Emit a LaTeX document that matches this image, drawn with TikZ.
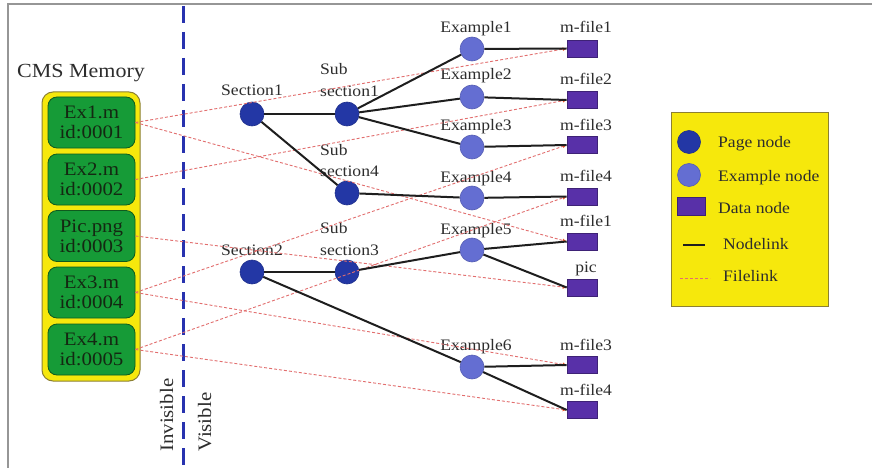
\documentclass[tikz,border=0pt]{standalone}
\usepackage{fontspec}
\setmainfont{Liberation Serif}[FakeStretch=1.1]
\usetikzlibrary{arrows.meta}
\definecolor{pagec}{RGB}{35,55,165}
\definecolor{exc}{RGB}{100,110,210}
\definecolor{datac}{RGB}{88,48,168}
\definecolor{greenc}{RGB}{22,155,55}
\definecolor{greenb}{RGB}{15,90,30}
\definecolor{yellowc}{RGB}{246,232,12}
\definecolor{yellowb}{RGB}{140,128,50}
\definecolor{filec}{RGB}{226,110,110}
\definecolor{tipc}{RGB}{235,85,40}
\definecolor{linkc}{RGB}{30,30,30}
\definecolor{textc}{RGB}{45,45,45}
\definecolor{memtextc}{RGB}{20,40,18}
\definecolor{vlinec}{RGB}{40,50,175}
\definecolor{framec}{RGB}{150,150,150}
\newcommand{\lblfont}{\fontsize{16}{18}\selectfont}
\newcommand{\memfont}{\fontsize{19}{20}\selectfont}
\tikzset{
  pagenode/.style={circle, fill=pagec, draw=pagec!85!black, line width=0.6pt, minimum size=24pt, inner sep=0pt},
  exnode/.style={circle, fill=exc, draw=exc!85!black, line width=0.6pt, minimum size=24pt, inner sep=0pt},
  datanode/.style={rectangle, fill=datac, draw=datac!70!black, line width=0.6pt, minimum width=30pt, minimum height=17pt, inner sep=0pt},
  lbl/.style={font=\lblfont, inner sep=0pt, text=textc},
  membox/.style={rectangle, rounded corners=9pt, fill=greenc, draw=greenb, line width=0.8pt, minimum width=87pt, minimum height=51pt, inner sep=0pt, align=center, font=\memfont, text=memtextc},
  nodelink/.style={draw=linkc, line width=2pt},
  filelink/.style={draw=filec, line width=0.9pt, dash pattern=on 3pt off 2pt, -{Latex[length=4pt,width=4pt,color=tipc]}},
}
\begin{document}
\begin{tikzpicture}[x=1pt,y=-1pt]
\useasboundingbox (0,0) rectangle (872,468);
\fill[white] (0,0) rectangle (872,468);
% frame
\draw[framec, line width=1.5pt] (8,468) -- (8,4) -- (872,4);
% memory
\node[font=\fontsize{20}{22}\selectfont, text=textc, inner sep=0pt, anchor=base] (cms) at (81,78) {CMS Memory};
\draw[fill=yellowc, draw=yellowb, line width=1pt, rounded corners=11pt] (42,92) rectangle (140,381);
\node[membox] (ex1) at (91.5,122.5) {Ex1.m\\[0pt]id:0001};
\node[membox] (ex2) at (91.5,179.5) {Ex2.m\\[0pt]id:0002};
\node[membox] (pic) at (91.5,236) {Pic.png\\[0pt]id:0003};
\node[membox] (ex3) at (91.5,292.5) {Ex3.m\\[0pt]id:0004};
\node[membox] (ex4) at (91.5,349.5) {Ex4.m\\[0pt]id:0005};
% visibility divider
\coordinate (vtop) at (183,6);
\coordinate (vbot) at (183,468);
\draw[vlinec, line width=3pt, dash pattern=on 17pt off 9pt] (vtop) -- (vbot);
\node[font=\fontsize{19}{20}\selectfont, text=textc, rotate=90, anchor=base west, inner sep=0pt] (invis) at (173,452) {Invisible};
\node[font=\fontsize{19}{20}\selectfont, text=textc, rotate=90, anchor=base west, inner sep=0pt] (vis) at (211,452) {Visible};
% page nodes
\node[pagenode] (s1) at (252,114) {};
\node[pagenode] (ss1) at (347,114) {};
\node[pagenode] (ss4) at (347,193) {};
\node[pagenode] (s2) at (252,272) {};
\node[pagenode] (ss3) at (347,272) {};
\node[lbl, anchor=base] (ls1) at (252,96) {Section1};
\node[lbl, anchor=base west] (lss1a) at (320,75) {Sub};
\node[lbl, anchor=base west] (lss1b) at (320,97) {section1};
\node[lbl, anchor=base west] (lss4a) at (320,155) {Sub};
\node[lbl, anchor=base west] (lss4b) at (320,176) {section4};
\node[lbl, anchor=base] (ls2) at (252,255) {Section2};
\node[lbl, anchor=base west] (lss3a) at (320,233) {Sub};
\node[lbl, anchor=base west] (lss3b) at (320,255) {section3};
% example nodes
\node[exnode] (e1) at (472,49) {};
\node[exnode] (e2) at (472,97) {};
\node[exnode] (e3) at (472,147) {};
\node[exnode] (e4) at (472,198) {};
\node[exnode] (e5) at (472,250) {};
\node[exnode] (e6) at (472,367) {};
\node[lbl, anchor=base] (le1) at (476,33) {Example1};
\node[lbl, anchor=base] (le2) at (476,80) {Example2};
\node[lbl, anchor=base] (le3) at (476,130) {Example3};
\node[lbl, anchor=base] (le4) at (476,182) {Example4};
\node[lbl, anchor=base] (le5) at (476,234) {Example5};
\node[lbl, anchor=base] (le6) at (476,350) {Example6};
% data nodes
\node[datanode] (d1) at (582,48.5) {};
\node[datanode] (d2) at (582,100) {};
\node[datanode] (d3) at (582,145) {};
\node[datanode] (d4) at (582,196.5) {};
\node[datanode] (d5) at (582,241.5) {};
\node[datanode] (d6) at (582,287.5) {};
\node[datanode] (d7) at (582,365) {};
\node[datanode] (d8) at (582,410) {};
\node[lbl, anchor=base] (ld1) at (586,33) {m-file1};
\node[lbl, anchor=base] (ld2) at (586,85) {m-file2};
\node[lbl, anchor=base] (ld3) at (586,130) {m-file3};
\node[lbl, anchor=base] (ld4) at (586,181) {m-file4};
\node[lbl, anchor=base] (ld5) at (586,226) {m-file1};
\node[lbl, anchor=base] (ld6) at (586,272) {pic};
\node[lbl, anchor=base] (ld7) at (586,350) {m-file3};
\node[lbl, anchor=base] (ld8) at (586,395) {m-file4};
% file links
\draw[filelink] (ex1.east) -- (d1.west);
\draw[filelink] (ex1.east) -- (d5.west);
\draw[filelink] (ex2.east) -- (d2.west);
\draw[filelink] (pic.east) -- (d6.west);
\draw[filelink] (ex3.east) -- (d3.west);
\draw[filelink] (ex3.east) -- (d7.west);
\draw[filelink] (ex4.east) -- (d4.west);
\draw[filelink] (ex4.east) -- (d8.west);
% node links
\draw[nodelink] (s1) -- (ss1);
\draw[nodelink] (s1) -- (ss4);
\draw[nodelink] (ss1) -- (e1);
\draw[nodelink] (ss1) -- (e2);
\draw[nodelink] (ss1) -- (e3);
\draw[nodelink] (ss4) -- (e4);
\draw[nodelink] (s2) -- (ss3);
\draw[nodelink] (s2) -- (e6);
\draw[nodelink] (ss3) -- (e5);
\draw[nodelink] (e1) -- (d1.west);
\draw[nodelink] (e2) -- (d2.west);
\draw[nodelink] (e3) -- (d3.west);
\draw[nodelink] (e4) -- (d4.west);
\draw[nodelink] (e5) -- (d5.west);
\draw[nodelink] (e5) -- (d6.west);
\draw[nodelink] (e6) -- (d7.west);
\draw[nodelink] (e6) -- (d8.west);
% legend
\node[rectangle, fill=yellowc, draw=yellowb, line width=1pt, minimum width=157pt, minimum height=193pt, inner sep=0pt] (legend) at (749.5,209.5) {};
\node[pagenode, minimum size=23pt] (lgpage) at (689,142) {};
\node[exnode, minimum size=23pt] (lgex) at (689,175) {};
\node[datanode, minimum width=28pt, minimum height=18pt] (lgdata) at (691,206) {};
\coordinate (lgnl1) at (683,245);
\coordinate (lgnl2) at (705,245);
\draw[nodelink] (lgnl1) -- (lgnl2);
\coordinate (lgfl1) at (680,278);
\coordinate (lgfl2) at (710,278);
\draw[draw=filec, line width=0.9pt, dash pattern=on 3pt off 2pt] (lgfl1) -- (lgfl2);
\node[lbl, anchor=base west] (lgt1) at (718,147) {Page node};
\node[lbl, anchor=base west] (lgt2) at (718,181) {Example node};
\node[lbl, anchor=base west] (lgt3) at (718,213) {Data node};
\node[lbl, anchor=base west] (lgt4) at (723,249) {Nodelink};
\node[lbl, anchor=base west] (lgt5) at (723,281) {Filelink};
\end{tikzpicture}
\end{document}
